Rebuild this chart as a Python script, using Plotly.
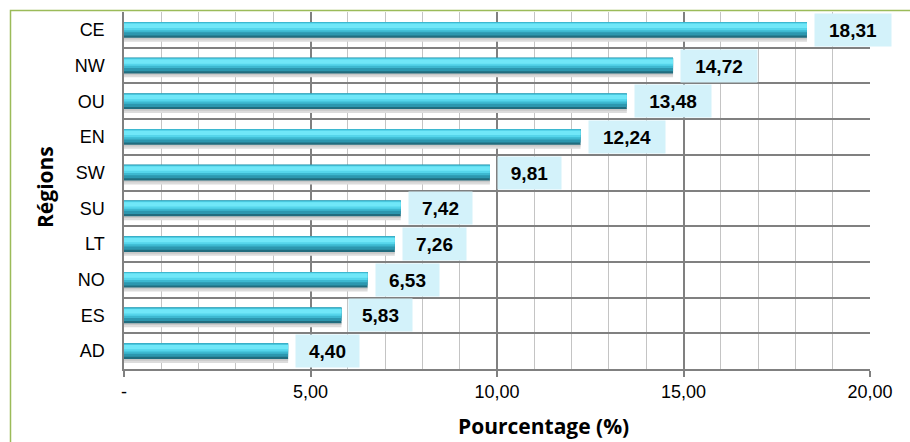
import plotly.graph_objects as go

regions = ["CE", "NW", "OU", "EN", "SW", "SU", "LT", "NO", "ES", "AD"]
values = [18.31, 14.72, 13.48, 12.24, 9.81, 7.42, 7.26, 6.53, 5.83, 4.40]
x_tickvals = [0, 5, 10, 15, 20]
x_ticktext = ["-", "5,00", "10,00", "15,00", "20,00"]

W, H = 910, 442
L, R, T, B = 124, 40, 12, 73
pw, ph = W - L - R, H - T - B

def px_x(p):
    return (p - L) / pw

def px_y(p):
    return (H - B - p) / ph

fig = go.Figure()
bw = 0.44
# soft shadow under each bar
fig.add_trace(go.Bar(y=regions, x=values, orientation="h",
                     width=bw * 0.30, offset=-bw / 2 + bw * 0.95,
                     marker=dict(color="#DCDCDC", line=dict(width=0)), hoverinfo="skip"))
fig.add_trace(go.Bar(y=regions, x=values, orientation="h",
                     width=bw * 0.16, offset=-bw / 2 + bw * 0.95,
                     marker=dict(color="#C8C8C8", line=dict(width=0)), hoverinfo="skip"))
# layered bars to imitate a cylindrical gradient (top -> bottom)
layers = [
    (0.00, 1.00, "#216C7E"),
    (0.00, 0.86, "#2C97AF"),
    (0.00, 0.66, "#3DB8D0"),
    (0.07, 0.52, "#55D5EB"),
    (0.11, 0.38, "#70E7F8"),
]
for start, end, col in layers:
    fig.add_trace(go.Bar(y=regions, x=values, orientation="h",
                         width=bw * (end - start), offset=-bw / 2 + bw * start,
                         marker=dict(color=col, line=dict(width=0)), hoverinfo="skip"))

labels = [f"{v:.2f}".replace(".", ",") for v in values]
for r, v, lab in zip(regions, values, labels):
    fig.add_annotation(x=v, y=r, text=f"<b>{lab}</b>", showarrow=False, xanchor="left",
                       xshift=7, bgcolor="#D3F2FA", borderpad=6,
                       width=13 * len(lab) - 1, height=20,
                       font=dict(family="Liberation Sans, Arial", size=19, color="#000000"))

fig.add_annotation(text="<b>Pourcentage (%)</b>", x=px_x(543), y=px_y(426), xref="paper", yref="paper",
                   xanchor="center", yanchor="middle",
                   showarrow=False, font=dict(family="Open Sans, Noto Sans", size=21, color="#000000"))
fig.add_annotation(text="<b>Régions</b>", x=px_x(45), y=px_y(187), xref="paper", yref="paper",
                   xanchor="center", yanchor="middle",
                   showarrow=False, textangle=-90,
                   font=dict(family="Open Sans, Noto Sans", size=21, color="#000000"))

fig.add_shape(type="rect", xref="paper", yref="paper", x0=px_x(10.5), x1=px_x(915),
              y0=px_y(447), y1=px_y(10.5), line=dict(color="#9BBB59", width=1.5), layer="above")

fig.update_layout(
    width=W, height=H, margin=dict(l=L, r=R, t=T, b=B),
    paper_bgcolor="white", plot_bgcolor="white", showlegend=False,
    barmode="overlay",
    font=dict(family="Liberation Sans, Arial", size=18, color="#000000"),
    xaxis=dict(range=[0, 20], tickvals=x_tickvals, ticktext=x_ticktext,
               showgrid=True, gridcolor="#808080", gridwidth=1.5,
               minor=dict(dtick=1, showgrid=True, gridcolor="#C4C4C4", gridwidth=1.2),
               ticks="outside", ticklen=6, tickcolor="#808080", tickwidth=1.5,
               showline=True, linecolor="#808080", linewidth=1.5,
               zeroline=False, tickfont=dict(size=18), fixedrange=True),
    yaxis=dict(categoryorder="array", categoryarray=regions, autorange="reversed",
               tickson="boundaries", showgrid=True, gridcolor="#808080", gridwidth=1.5,
               ticks="", showline=True, linecolor="#808080", linewidth=1.5,
               ticklabelstandoff=14, tickfont=dict(size=18), fixedrange=True),
)

fig.write_html("out.html", config={"displayModeBar": False},
               post_script="document.body.style.margin='0';document.body.style.padding='0';")
